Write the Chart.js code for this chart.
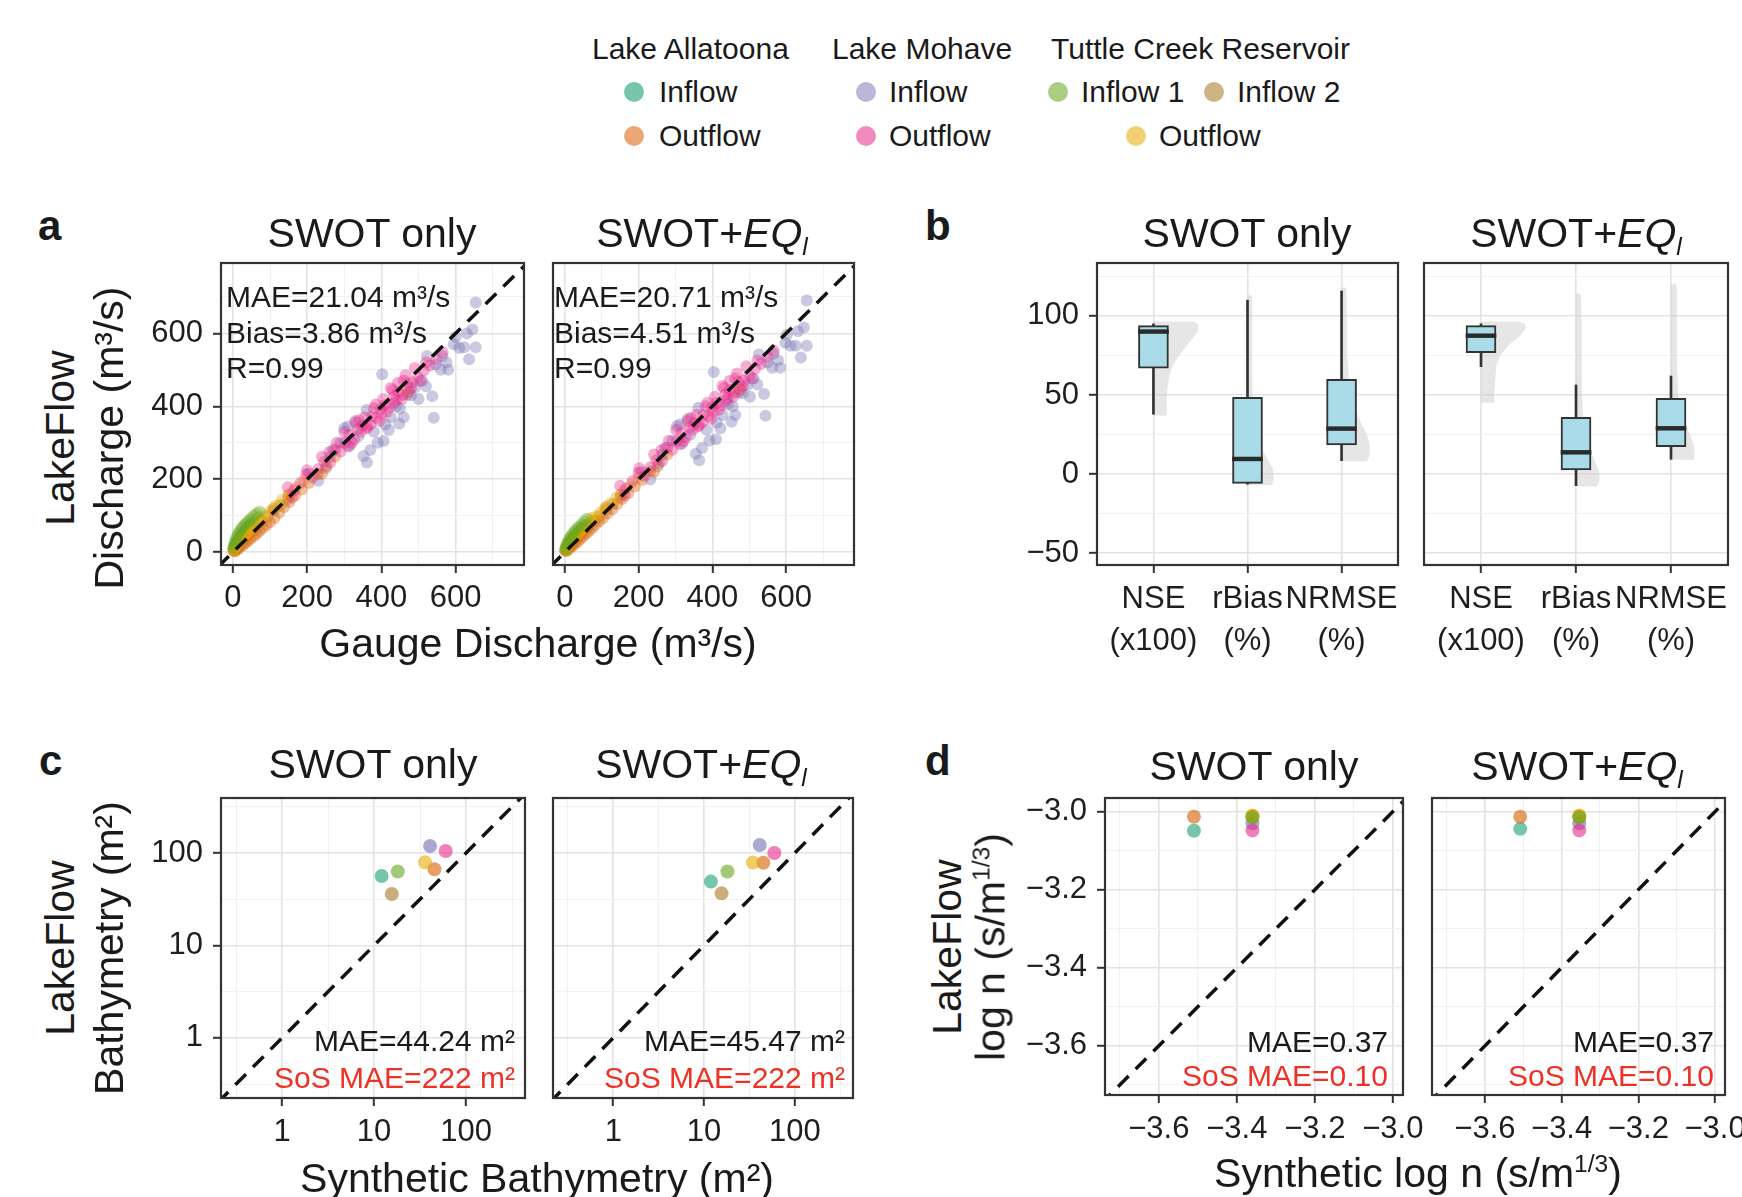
<!DOCTYPE html>
<html lang="en">
<head>
<meta charset="UTF-8">
<title>LakeFlow validation panels</title>
<script src="https://cdn.jsdelivr.net/npm/chart.js"></script>
<style>
  body { margin: 0; width: 1742px; height: 1197px; position: relative; overflow: hidden; background: #fff;
         font-family: 'Liberation Sans', Arial, sans-serif; color: #1a1a1a; }
  .t { position: absolute; white-space: nowrap; line-height: 1; font-size: 30px; z-index: 2; }
  .vc { transform: translateY(-50%); }
  .cc { transform: translate(-50%, -50%); }
  .rot { transform: translate(-50%, -50%) rotate(-90deg); }
  .title { font-size: 41px; }
  .axt { font-size: 41px; }
  .lab { font-size: 42px; font-weight: bold; }
  .red { color: #ee3124; }
  .dot { position: absolute; width: 20px; height: 20px; border-radius: 50%; transform: translate(-50%, -50%); }
  sub { font-size: 0.6em; vertical-align: -0.35em; line-height: 0; }
  sup { font-size: 0.6em; vertical-align: 0.6em; line-height: 0; }
  canvas { position: absolute; z-index: 1; }
</style>
</head>
<body>

<!-- legend -->
<div class="t vc" style="left:592px;top:49px">Lake Allatoona</div>
<div class="t vc" style="left:832px;top:49px">Lake Mohave</div>
<div class="t vc" style="left:1051px;top:49px">Tuttle Creek Reservoir</div>
<div class="dot" style="left:634px;top:92px;background:rgba(27,158,119,0.6)"></div>
<div class="t vc" style="left:659px;top:92px">Inflow</div>
<div class="dot" style="left:634px;top:136px;background:rgba(217,95,2,0.55)"></div>
<div class="t vc" style="left:659px;top:136px">Outflow</div>
<div class="dot" style="left:866px;top:92px;background:rgba(117,112,179,0.5)"></div>
<div class="t vc" style="left:889px;top:92px">Inflow</div>
<div class="dot" style="left:866px;top:136px;background:rgba(231,41,138,0.55)"></div>
<div class="t vc" style="left:889px;top:136px">Outflow</div>
<div class="dot" style="left:1058px;top:92px;background:rgba(102,166,30,0.55)"></div>
<div class="t vc" style="left:1081px;top:92px">Inflow 1</div>
<div class="dot" style="left:1214px;top:92px;background:rgba(166,118,29,0.55)"></div>
<div class="t vc" style="left:1237px;top:92px">Inflow 2</div>
<div class="dot" style="left:1136px;top:136px;background:rgba(230,171,2,0.55)"></div>
<div class="t vc" style="left:1159px;top:136px">Outflow</div>

<!-- panel letters -->
<div class="t lab" style="left:38px;top:205px">a</div>
<div class="t lab" style="left:925px;top:205px">b</div>
<div class="t lab" style="left:39px;top:740px">c</div>
<div class="t lab" style="left:925px;top:740px">d</div>

<!-- facet titles -->
<div class="t title cc" style="left:372px;top:233px">SWOT only</div>
<div class="t title cc" style="left:702px;top:233px">SWOT+<i>EQ</i><sub><i>l</i></sub></div>
<div class="t title cc" style="left:1247px;top:233px">SWOT only</div>
<div class="t title cc" style="left:1576px;top:233px">SWOT+<i>EQ</i><sub><i>l</i></sub></div>
<div class="t title cc" style="left:373px;top:764px">SWOT only</div>
<div class="t title cc" style="left:701px;top:764px">SWOT+<i>EQ</i><sub><i>l</i></sub></div>
<div class="t title cc" style="left:1254px;top:766px">SWOT only</div>
<div class="t title cc" style="left:1577px;top:766px">SWOT+<i>EQ</i><sub><i>l</i></sub></div>

<!-- axis titles -->
<div class="t axt rot" style="left:60px;top:438px">LakeFlow</div>
<div class="t axt rot" style="left:109px;top:438px">Discharge (m³/s)</div>
<div class="t axt cc" style="left:538px;top:643px">Gauge Discharge (m³/s)</div>
<div class="t axt rot" style="left:60px;top:948px">LakeFlow</div>
<div class="t axt rot" style="left:109px;top:948px">Bathymetry (m²)</div>
<div class="t axt cc" style="left:537px;top:1178px">Synthetic Bathymetry (m²)</div>
<div class="t axt rot" style="left:947px;top:947px">LakeFlow</div>
<div class="t axt rot" style="left:991px;top:947px">log n (s/m<sup>1/3</sup>)</div>
<div class="t axt cc" style="left:1418px;top:1173px">Synthetic log n (s/m<sup>1/3</sup>)</div>

<!-- annotations -->
<div class="t" style="left:226px;top:279px;line-height:35.5px">MAE=21.04 m³/s<br>Bias=3.86 m³/s<br>R=0.99</div>
<div class="t" style="left:554px;top:279px;line-height:35.5px">MAE=20.71 m³/s<br>Bias=4.51 m³/s<br>R=0.99</div>
<div class="t" style="right:1227px;top:1022px;line-height:37px;text-align:right">MAE=44.24 m²<br><span class="red">SoS MAE=222 m²</span></div>
<div class="t" style="right:897px;top:1022px;line-height:37px;text-align:right">MAE=45.47 m²<br><span class="red">SoS MAE=222 m²</span></div>
<div class="t" style="right:354px;top:1025px;line-height:34px;text-align:right">MAE=0.37<br><span class="red">SoS MAE=0.10</span></div>
<div class="t" style="right:28px;top:1025px;line-height:34px;text-align:right">MAE=0.37<br><span class="red">SoS MAE=0.10</span></div>

<script>
    // ---------- data ----------
    // panel a: gauge discharge (x) vs LakeFlow discharge (y), m3/s, SWOT only
    const aInX_only = [1, 3, 5, 8, 11, 14, 17, 21, 25, 29, 34, 39, 44, 50, 56];
    const aInY_only = [6, 12, 17, 22, 27, 32, 38, 44, 50, 55, 61, 67, 72, 78, 84];
    const aOutX_only = [4, 9, 14, 20, 27, 34, 41, 48, 56, 64, 72, 80, 90, 100, 112, 125, 138, 152, 168, 185, 205, 228, 252, 275, 110, 150, 240];
    const aOutY_only = [2, 5, 9, 14, 19, 25, 31, 37, 44, 51, 58, 66, 74, 82, 94, 108, 124, 138, 156, 172, 190, 214, 236, 262, 120, 155, 215];
    const mInX_only = [205, 230, 262, 290, 315, 338, 352, 361, 380, 402, 406, 425, 448, 470, 490, 510, 523, 537, 541, 546, 564, 580, 595, 610, 623, 636, 645, 654, 654, 300, 330, 450,
                       250, 270, 310, 360, 390, 420, 440, 460, 480, 500, 520, 560, 600, 630, 370, 410, 575];
    const mInY_only = [215, 196, 262, 300, 292, 318, 264, 246, 330, 488, 305, 370, 352, 432, 452, 470, 538, 428, 369, 515, 538, 500, 570, 560, 562, 529, 611, 562, 685, 340, 360, 395,
                       230, 280, 345, 390, 300, 335, 400, 370, 430, 420, 455, 500, 590, 600, 280, 350, 520];
    const mOutX_only = [148, 165, 182, 198, 214, 230, 246, 262, 276, 290, 302, 314, 326, 338, 350, 362, 374, 386, 398, 410, 422, 434, 446, 458, 470, 484, 498, 514, 530, 548, 565, 320, 360, 400, 440, 480,
                        160, 200, 240, 280, 310, 330, 345, 355, 370, 385, 395, 405, 415, 425, 435, 445, 455, 465, 475, 490, 505, 520, 380, 340, 300, 260, 430, 460];
    const mOutY_only = [178, 170, 190, 214, 205, 228, 248, 246, 282, 276, 300, 322, 310, 338, 348, 344, 372, 368, 392, 404, 398, 428, 440, 432, 462, 466, 480, 498, 512, 530, 548, 300, 340, 380, 418, 450,
                        150, 225, 262, 300, 290, 355, 330, 370, 350, 405, 360, 420, 385, 450, 410, 465, 420, 485, 440, 505, 470, 520, 395, 362, 330, 275, 445, 470];
    const tIn1X_only = [1, 3, 5, 7, 10, 13, 16, 20, 24, 28, 33, 38, 44, 50, 57, 64, 72];
    const tIn1Y_only = [12, 20, 27, 34, 41, 48, 54, 60, 66, 71, 77, 82, 88, 94, 100, 106, 112];
    const tIn2X_only = [3, 8, 14, 22, 31, 41, 52, 64, 78, 93, 110, 128, 148];
    const tIn2Y_only = [5, 11, 18, 27, 37, 47, 58, 70, 84, 98, 114, 130, 146];
    const tOutX_only = [1, 3, 6, 9, 12, 16, 20, 25, 30, 36, 42, 49, 57, 66, 76, 88, 101, 116, 132, 150, 170, 192, 470, 20, 45, 70];
    const tOutY_only = [4, 8, 12, 16, 21, 26, 31, 37, 43, 49, 56, 63, 71, 80, 90, 102, 114, 128, 144, 160, 178, 198, 438, 40, 65, 95];

    // panel a, SWOT+EQl
    const aInX_eq = [1, 3, 6, 9, 12, 15, 19, 23, 27, 32, 37, 42, 48, 54];
    const aInY_eq = [5, 10, 15, 20, 24, 29, 34, 39, 45, 50, 56, 61, 67, 73];
    const aOutX_eq = [4, 9, 15, 21, 28, 35, 42, 50, 58, 66, 74, 83, 93, 104, 116, 129, 142, 156, 172, 190, 210, 232, 255, 278, 112, 152, 242];
    const aOutY_eq = [3, 7, 12, 17, 23, 29, 36, 43, 51, 58, 66, 75, 84, 94, 106, 118, 132, 146, 162, 180, 198, 222, 244, 268, 124, 158, 220];
    const mInX_eq = [208, 232, 265, 292, 318, 340, 355, 364, 384, 404, 410, 428, 452, 472, 494, 512, 526, 540, 544, 550, 566, 584, 598, 612, 626, 640, 648, 656, 656, 304, 334, 455,
                     252, 272, 312, 362, 392, 422, 442, 462, 482, 502, 522, 562, 602, 632, 372, 412, 578];
    const mInY_eq = [220, 200, 268, 306, 298, 322, 270, 252, 336, 494, 310, 376, 358, 438, 458, 476, 542, 434, 374, 520, 544, 506, 574, 566, 566, 534, 616, 566, 690, 346, 366, 400,
                     236, 286, 350, 396, 306, 340, 406, 376, 436, 426, 460, 506, 596, 606, 286, 356, 526];
    const mOutX_eq = [150, 166, 184, 200, 216, 232, 248, 264, 278, 292, 304, 316, 328, 340, 352, 364, 376, 388, 400, 412, 424, 436, 448, 460, 472, 486, 500, 516, 532, 550, 566, 322, 362, 402, 442, 482,
                      162, 202, 242, 282, 312, 332, 347, 357, 372, 387, 397, 407, 417, 427, 437, 447, 457, 467, 477, 492, 507, 522, 382, 342, 302, 262, 432, 462];
    const mOutY_eq = [182, 175, 195, 218, 210, 233, 252, 251, 287, 281, 305, 327, 315, 343, 353, 349, 377, 373, 397, 409, 403, 433, 445, 437, 467, 471, 485, 503, 517, 535, 553, 305, 345, 385, 423, 455,
                      156, 230, 268, 306, 296, 360, 336, 376, 356, 410, 366, 426, 390, 456, 416, 470, 426, 490, 446, 510, 476, 526, 400, 368, 336, 280, 450, 476];
    const tIn1X_eq = [1, 3, 5, 8, 11, 14, 18, 22, 27, 32, 38, 45, 52, 60];
    const tIn1Y_eq = [9, 16, 22, 28, 34, 40, 46, 52, 58, 64, 70, 77, 84, 92];
    const tIn2X_eq = [3, 8, 15, 23, 32, 42, 53, 66, 80, 95, 112, 130, 150];
    const tIn2Y_eq = [6, 12, 19, 28, 38, 48, 60, 72, 86, 100, 116, 132, 150];
    const tOutX_eq = [1, 3, 6, 9, 13, 17, 22, 27, 33, 39, 46, 54, 62, 72, 83, 95, 108, 123, 140, 158, 178, 200, 472, 22, 47, 72];
    const tOutY_eq = [5, 9, 13, 18, 23, 28, 34, 40, 46, 53, 60, 68, 76, 86, 97, 108, 120, 134, 150, 166, 184, 204, 446, 40, 64, 94];

    // series order: Allatoona in, Allatoona out, Mohave in, Mohave out, Tuttle in 1, Tuttle in 2, Tuttle out
    const seriesRGB = ['27,158,119', '217,95,2', '117,112,179', '231,41,138', '102,166,30', '166,118,29', '230,171,2'];
    const seriesOrder = [5, 4, 7, 1, 2, 6, 3];

    // panel b: metric boxplots
    const metricPos = [1, 2, 3];
    const metricLabels = [['NSE', '(x100)'], ['rBias', '(%)'], ['NRMSE', '(%)']];
    const boxLo_only = [37.8, -6.5, 8.4];
    const boxQ1_only = [66.9, -5.9, 18.4];
    const boxMed_only = [90.1, 9.5, 28.7];
    const boxQ3_only = [93.9, 48.5, 59.9];
    const boxHi_only = [95, 110, 115.8];
    const boxLo_eq = [67.9, -7.4, 9.3];
    const boxQ1_eq = [76.8, 2.5, 17.3];
    const boxMed_eq = [87.5, 13.7, 28.9];
    const boxQ3_eq = [93.9, 35.9, 47.9];
    const boxHi_eq = [95, 56.3, 62];
    // half-violin outlines: levels and half widths (x units)
    const vNseY_only = [37, 45, 55, 62, 68, 74, 80, 86, 91, 95, 96.5];
    const vNseW_only = [0.14, 0.14, 0.15, 0.17, 0.2, 0.26, 0.34, 0.42, 0.48, 0.47, 0.42];
    const vBiasY_only = [-7, -3, 3, 10, 18, 28, 40, 60, 80, 100, 113];
    const vBiasW_only = [0.26, 0.28, 0.27, 0.21, 0.13, 0.08, 0.06, 0.05, 0.05, 0.05, 0.05];
    const vRmseY_only = [8, 12, 18, 25, 32, 40, 50, 60, 75, 95, 118];
    const vRmseW_only = [0.27, 0.3, 0.3, 0.27, 0.21, 0.15, 0.11, 0.08, 0.06, 0.06, 0.05];
    const vNseY_eq = [45, 52, 60, 68, 75, 82, 88, 92, 95, 96.5];
    const vNseW_eq = [0.14, 0.14, 0.15, 0.16, 0.2, 0.3, 0.42, 0.47, 0.46, 0.4];
    const vBiasY_eq = [-8, -4, 2, 8, 15, 25, 40, 60, 80, 100, 114];
    const vBiasW_eq = [0.22, 0.25, 0.24, 0.2, 0.15, 0.1, 0.07, 0.06, 0.06, 0.06, 0.05];
    const vRmseY_eq = [9, 13, 18, 25, 32, 40, 50, 60, 75, 95, 120];
    const vRmseW_eq = [0.24, 0.25, 0.24, 0.2, 0.15, 0.1, 0.08, 0.07, 0.06, 0.06, 0.06];

    // panel c: bathymetry (m2), one point per series
    const bathyX_only = [12.1, 45.3, 40.6, 60.1, 18.1, 15.6, 35.8];
    const bathyY_only = [56.4, 66.7, 119, 105, 63, 36, 79.4];
    const bathyX_eq = [11.9, 45, 41, 59.5, 18.1, 15.6, 34.5];
    const bathyY_eq = [49, 78.5, 122, 100, 63, 36.6, 79];

    // panel d: log n
    const lognX_only = [-3.51, -3.51, -3.36, -3.36, -3.36, -3.36, -3.36];
    const lognY_only = [-3.049, -3.013, -3.03, -3.048, -3.015, -3.012, -3.01];
    const lognX_eq = [-3.508, -3.508, -3.354, -3.354, -3.354, -3.354, -3.354];
    const lognY_eq = [-3.044, -3.013, -3.03, -3.048, -3.015, -3.012, -3.01];

    // ticks
    const aMajor = [0, 200, 400, 600], aMinor = [100, 300, 500, 700];
    const bMajor = [-50, 0, 50, 100], bMinor = [-25, 25, 75, 125];
    const cMajor = [1, 10, 100], cMinor = [0.316, 3.16, 31.6, 316];
    const dMajor = [-3.6, -3.4, -3.2, -3.0], dMinor = [-3.7, -3.5, -3.3, -3.1];

    // ---------- drawing ----------
    const FONT = "'Liberation Sans', Arial, sans-serif";
    const PAD_T = 34, PAD_R = 30;
    const minus = s => s.replace('-', '\u2212');

    // panel border on top of everything
    const framePlugin = {
        id: 'frame',
        afterDatasetsDraw(chart) {
            const a = chart.chartArea, ctx = chart.ctx;
            ctx.save();
            ctx.strokeStyle = '#333';
            ctx.lineWidth = 2.2;
            ctx.strokeRect(a.left, a.top, a.right - a.left, a.bottom - a.top);
            ctx.restore();
        }
    };

    // grey half violins behind the boxes
    const violinPlugin = {
        id: 'halfViolin',
        beforeDatasetsDraw(chart, args, opts) {
            if (!opts.shapes) return;
            const ctx = chart.ctx, xs = chart.scales.x, ys = chart.scales.y;
            ctx.save();
            ctx.fillStyle = 'rgba(200,200,200,0.45)';
            opts.shapes.forEach((s, i) => {
                const p = metricPos[i];
                ctx.beginPath();
                ctx.moveTo(xs.getPixelForValue(p), ys.getPixelForValue(s.lv[0]));
                s.lv.forEach((v, k) => ctx.lineTo(xs.getPixelForValue(p + s.w[k]), ys.getPixelForValue(v)));
                ctx.lineTo(xs.getPixelForValue(p), ys.getPixelForValue(s.lv[s.lv.length - 1]));
                ctx.closePath();
                ctx.fill();
            });
            ctx.restore();
        }
    };

    function makeCanvas(f, padL, padB) {
        const cv = document.createElement('canvas');
        const w = padL + f.w + PAD_R, h = PAD_T + f.h + padB;
        cv.width = w;
        cv.height = h;
        cv.style.left = (f.x - padL) + 'px';
        cv.style.top = (f.y - PAD_T) + 'px';
        document.body.appendChild(cv);
        return cv;
    }

    function axisOpts(cfg) {
        const isMajor = v => cfg.major.some(m => Math.abs(m - v) < 1e-6);
        const minor = cfg.minor || [];
        return {
            type: cfg.type || 'linear',
            min: cfg.min, max: cfg.max,
            bounds: 'data',
            offset: false,
            afterBuildTicks: s => { s.ticks = cfg.major.concat(minor).sort((p, q) => p - q).map(v => ({ value: v })); },
            afterFit: s => { if (s.isHorizontal()) s.height = cfg.size; else s.width = cfg.size; },
            border: { display: false },
            grid: {
                offset: false,
                color: c => (c.tick && isMajor(c.tick.value)) ? '#e3e3e3' : '#f1f1f1',
                lineWidth: c => (c.tick && isMajor(c.tick.value)) ? 1.6 : 1,
                drawTicks: cfg.labels !== false,
                tickLength: 8,
                tickWidth: 2,
                tickColor: c => (c.tick && isMajor(c.tick.value)) ? '#333' : 'rgba(0,0,0,0)'
            },
            ticks: {
                display: cfg.labels !== false,
                autoSkip: false, maxRotation: 0, minRotation: 0,
                padding: cfg.pad,
                color: '#1e1e1e',
                font: { family: FONT, size: 31, lineHeight: cfg.lh || 1.2 },
                callback: v => isMajor(v) ? cfg.fmt(v) : ''
            }
        };
    }

    function baseOptions(xAx, yAx) {
        return {
            responsive: false,
            animation: false,
            events: [],
            layout: { padding: { top: PAD_T, right: PAD_R, left: 0, bottom: 0 } },
            plugins: { legend: { display: false }, tooltip: { enabled: false } },
            scales: { x: xAx, y: yAx }
        };
    }

    function scatterPanel(f, padL, padB, xAx, yAx, xsList, ysList, lineEnds, r, alpha) {
        const datasets = [{
            data: lineEnds.map(v => ({ x: v, y: v })),
            showLine: true, borderColor: '#111', borderWidth: 3.5, borderDash: [15, 10],
            pointRadius: 0, order: 0
        }];
        xsList.forEach((xs, i) => {
            datasets.push({
                data: xs.map((v, k) => ({ x: v, y: ysList[i][k] })),
                backgroundColor: 'rgba(' + seriesRGB[i] + ',' + alpha + ')',
                pointRadius: r, pointBorderWidth: 0, order: seriesOrder[i]
            });
        });
        new Chart(makeCanvas(f, padL, padB), {
            type: 'scatter',
            data: { datasets },
            options: baseOptions(xAx, yAx),
            plugins: [framePlugin]
        });
    }

    function boxPanel(f, padL, padB, yAx, lo, q1, med, q3, hi, shapes) {
        const xAx = axisOpts({ min: 0.4, max: 3.6, major: metricPos, size: padB, pad: 6, lh: 1.35,
                               fmt: v => metricLabels[Math.round(v) - 1] });
        const opts = baseOptions(xAx, yAx);
        opts.plugins.halfViolin = { shapes };
        new Chart(makeCanvas(f, padL, padB), {
            type: 'bar',
            data: {
                datasets: [
                    { data: metricPos.map((p, i) => ({ x: p, y: [med[i] - 1.2, med[i] + 1.2] })),
                      backgroundColor: '#2a2a2a', barThickness: 30, grouped: false, order: 0 },
                    { data: metricPos.map((p, i) => ({ x: p, y: [q1[i], q3[i]] })),
                      backgroundColor: '#a9dbe9', borderColor: '#333', borderWidth: 2, borderSkipped: false,
                      barThickness: 30, grouped: false, order: 1 },
                    { data: metricPos.map((p, i) => ({ x: p, y: [lo[i], hi[i]] })),
                      backgroundColor: '#333', barThickness: 2, grouped: false, order: 2 }
                ]
            },
            options: opts,
            plugins: [violinPlugin, framePlugin]
        });
    }

    const fmtInt = v => minus(String(v));
    const fmtDec = v => minus(v.toFixed(1));

    // panel a
    const aOnlyX = [aInX_only, aOutX_only, mInX_only, mOutX_only, tIn1X_only, tIn2X_only, tOutX_only];
    const aOnlyY = [aInY_only, aOutY_only, mInY_only, mOutY_only, tIn1Y_only, tIn2Y_only, tOutY_only];
    const aEqX = [aInX_eq, aOutX_eq, mInX_eq, mOutX_eq, tIn1X_eq, tIn2X_eq, tOutX_eq];
    const aEqY = [aInY_eq, aOutY_eq, mInY_eq, mOutY_eq, tIn1Y_eq, tIn2Y_eq, tOutY_eq];
    const aX = () => axisOpts({ min: -32, max: 784, major: aMajor, minor: aMinor, size: 70, pad: 7, fmt: fmtInt });
    scatterPanel({ x: 221, y: 263, w: 303, h: 302 }, 100, 70, aX(),
        axisOpts({ min: -35, max: 793, major: aMajor, minor: aMinor, size: 100, pad: 10, fmt: fmtInt }),
        aOnlyX, aOnlyY, [-40, 800], 6, 0.38);
    scatterPanel({ x: 551, y: 263, w: 303, h: 302 }, 4, 70, aX(),
        axisOpts({ min: -35, max: 793, major: aMajor, minor: aMinor, size: 4, labels: false, fmt: fmtInt }),
        aEqX, aEqY, [-40, 800], 6, 0.38);

    // panel b
    boxPanel({ x: 1097, y: 263, w: 301, h: 302 }, 100, 110,
        axisOpts({ min: -57.6, max: 133.5, major: bMajor, minor: bMinor, size: 100, pad: 10, fmt: fmtInt }),
        boxLo_only, boxQ1_only, boxMed_only, boxQ3_only, boxHi_only,
        [{ lv: vNseY_only, w: vNseW_only }, { lv: vBiasY_only, w: vBiasW_only }, { lv: vRmseY_only, w: vRmseW_only }]);
    boxPanel({ x: 1424, y: 263, w: 304, h: 302 }, 4, 110,
        axisOpts({ min: -57.6, max: 133.5, major: bMajor, minor: bMinor, size: 4, labels: false, fmt: fmtInt }),
        boxLo_eq, boxQ1_eq, boxMed_eq, boxQ3_eq, boxHi_eq,
        [{ lv: vNseY_eq, w: vNseW_eq }, { lv: vBiasY_eq, w: vBiasW_eq }, { lv: vRmseY_eq, w: vRmseW_eq }]);

    // panel c
    const cX = () => axisOpts({ type: 'logarithmic', min: 0.217, max: 437, major: cMajor, minor: cMinor, size: 70, pad: 8, fmt: fmtInt });
    scatterPanel({ x: 221, y: 798, w: 304, h: 300 }, 100, 70, cX(),
        axisOpts({ type: 'logarithmic', min: 0.224, max: 393, major: cMajor, minor: cMinor, size: 100, pad: 10, fmt: fmtInt }),
        bathyX_only.map(v => [v]), bathyY_only.map(v => [v]), [0.2, 450], 7, 0.6);
    scatterPanel({ x: 550, y: 798, w: 303, h: 300 }, 4, 70, cX(),
        axisOpts({ type: 'logarithmic', min: 0.224, max: 393, major: cMajor, minor: cMinor, size: 4, labels: false, fmt: fmtInt }),
        bathyX_eq.map(v => [v]), bathyY_eq.map(v => [v]), [0.2, 450], 7, 0.6);

    // panel d
    const dX = () => axisOpts({ min: -3.738, max: -2.974, major: dMajor, minor: dMinor, size: 70, pad: 8, fmt: fmtDec });
    scatterPanel({ x: 1105, y: 798, w: 298, h: 297 }, 100, 70, dX(),
        axisOpts({ min: -3.726, max: -2.965, major: dMajor, minor: dMinor, size: 100, pad: 10, fmt: fmtDec }),
        lognX_only.map(v => [v]), lognY_only.map(v => [v]), [-3.75, -2.96], 7, 0.6);
    scatterPanel({ x: 1429, y: 798, w: 296, h: 297 }, 4, 70, dX(),
        axisOpts({ min: -3.726, max: -2.965, major: dMajor, minor: dMinor, size: 4, labels: false, fmt: fmtDec }),
        lognX_eq.map(v => [v]), lognY_eq.map(v => [v]), [-3.75, -2.96], 7, 0.6);
</script>
</body>
</html>
